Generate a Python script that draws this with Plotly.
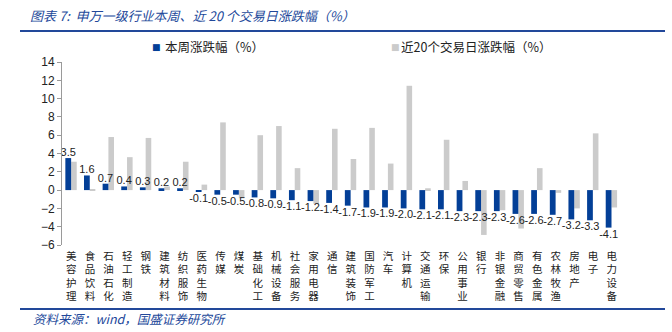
import plotly.graph_objects as go

categories = ["美容护理", "食品饮料", "石油石化", "轻工制造", "钢铁", "建筑材料", "纺织服饰", "医药生物",
              "传媒", "煤炭", "基础化工", "机械设备", "社会服务", "家用电器", "通信", "建筑装饰",
              "国防军工", "汽车", "计算机", "交通运输", "环保", "公用事业", "银行", "非银金融",
              "商贸零售", "有色金属", "农林牧渔", "房地产", "电子", "电力设备"]
week_pct = [3.5, 1.6, 0.7, 0.4, 0.3, 0.2, 0.2, -0.1, -0.5, -0.5, -0.8, -0.9, -1.1, -1.2, -1.4,
            -1.7, -1.9, -1.9, -2.0, -2.1, -2.1, -2.3, -2.3, -2.3, -2.6, -2.6, -2.7, -3.2, -3.3, -4.1]
d20_pct = [3.1, 0.1, 5.8, 3.6, 5.7, 0.4, 3.1, 0.6, 7.4, -0.9, 6.0, 7.0, 2.4, -1.5, 6.7,
           3.4, 6.8, 2.9, 11.4, 0.2, 5.5, 1.0, -4.9, -2.2, -4.2, 2.4, -0.3, -2.0, 6.2, -1.9]
y_ticks = [-6, -4, -2, 0, 2, 4, 6, 8, 10, 12, 14]
series_names = ["本周涨跌幅（%）", "近20个交易日涨跌幅（%）"]
title_text = "图表 7:  申万一级行业本周、近 20 个交易日涨跌幅（%）"
source_text = "资料来源：wind，国盛证券研究所"

BLUE = "#033f97"
GRAY = "#cbcbcb"
NAVY = "#22489a"
AX = "#9a9a9a"
FONT = "Noto Sans CJK SC"
NUMFONT = "Liberation Sans"

labels = ["<br>".join(list(c)) for c in categories]

# plot area in pixels: x 62..621, y 62..245
L, R, T, B = 62, 621, 62, 245
PW, PH = R - L, B - T
def px(x):
    return (x - L) / PW
def py(y):
    return (B - y) / PH

fig = go.Figure()
fig.add_trace(go.Bar(x=labels, y=d20_pct, name=series_names[1], marker_color=GRAY,
                     marker_line_width=0, offset=-0.01, width=0.30, showlegend=False))
fig.add_trace(go.Bar(x=labels, y=week_pct, name=series_names[0], marker_color=BLUE,
                     marker_line_width=0, offset=-0.32, width=0.31, showlegend=False,
                     texttemplate="%{y:.1f}", textposition="outside",
                     textfont=dict(family=NUMFONT, size=11, color="#222"),
                     constraintext="none", cliponaxis=False))

n = len(categories)
bounds = [i - 0.5 for i in range(n + 1)]
ymin, ymax = y_ticks[0], y_ticks[-1]

fig.update_layout(
    width=672, height=332,
    margin=dict(l=L, r=672 - R, t=T, b=332 - B),
    paper_bgcolor="white", plot_bgcolor="white",
    barmode="overlay",
    showlegend=False,
    font=dict(family=FONT, size=11, color="#222"),
    title=dict(text=title_text, x=30/672, xref="container", y=1 - 16/332, yref="container",
               xanchor="left", yanchor="middle",
               font=dict(family=FONT, size=13, color=NAVY, style="italic")),
    xaxis=dict(type="category", showline=False, ticks="", showgrid=False, zeroline=False,
               tickfont=dict(family=FONT, size=10.5, color="#222"), tickangle=0,
               ticklabelstandoff=3),
    xaxis2=dict(overlaying="x", anchor="free", position=(0 - ymin) / (ymax - ymin),
                range=[-0.5, n - 0.5], tickmode="array", tickvals=bounds, ticks="inside",
                ticklen=4, tickcolor=AX, showticklabels=False, showline=True, linecolor=AX,
                linewidth=1, showgrid=False, zeroline=False),
    yaxis=dict(range=[ymin, ymax], tickmode="array", tickvals=y_ticks, ticks="outside",
               ticklen=4, tickcolor=AX, showline=True, linecolor=AX, linewidth=1,
               showgrid=False, zeroline=False,
               tickfont=dict(family=NUMFONT, size=12, color="#222")),
)

# legend (drawn as text)
legend_items = [(series_names[0], BLUE, 156, 163), (series_names[1], GRAY, 395, 399)]
for name, col, sx, tx in legend_items:
    fig.add_annotation(text="■", xref="paper", yref="paper", x=px(sx), y=py(47),
                       xanchor="center", yanchor="middle", showarrow=False,
                       font=dict(family="DejaVu Sans", size=9, color=col))
    fig.add_annotation(text=name, xref="paper", yref="paper", x=px(tx), y=py(47),
                       xanchor="left", yanchor="middle", showarrow=False,
                       font=dict(family=FONT, size=12.5, color="#222"))

for yy in (31, 309):
    fig.add_shape(type="line", xref="paper", yref="paper", x0=px(20), x1=px(665),
                  y0=py(yy), y1=py(yy), line=dict(color=NAVY, width=2))
fig.add_annotation(text=source_text, xref="paper", yref="paper", x=px(31), y=py(318),
                   xanchor="left", yanchor="middle", showarrow=False,
                   font=dict(family=FONT, size=12.5, color=NAVY, style="italic"))

fig.write_html("out.html")
